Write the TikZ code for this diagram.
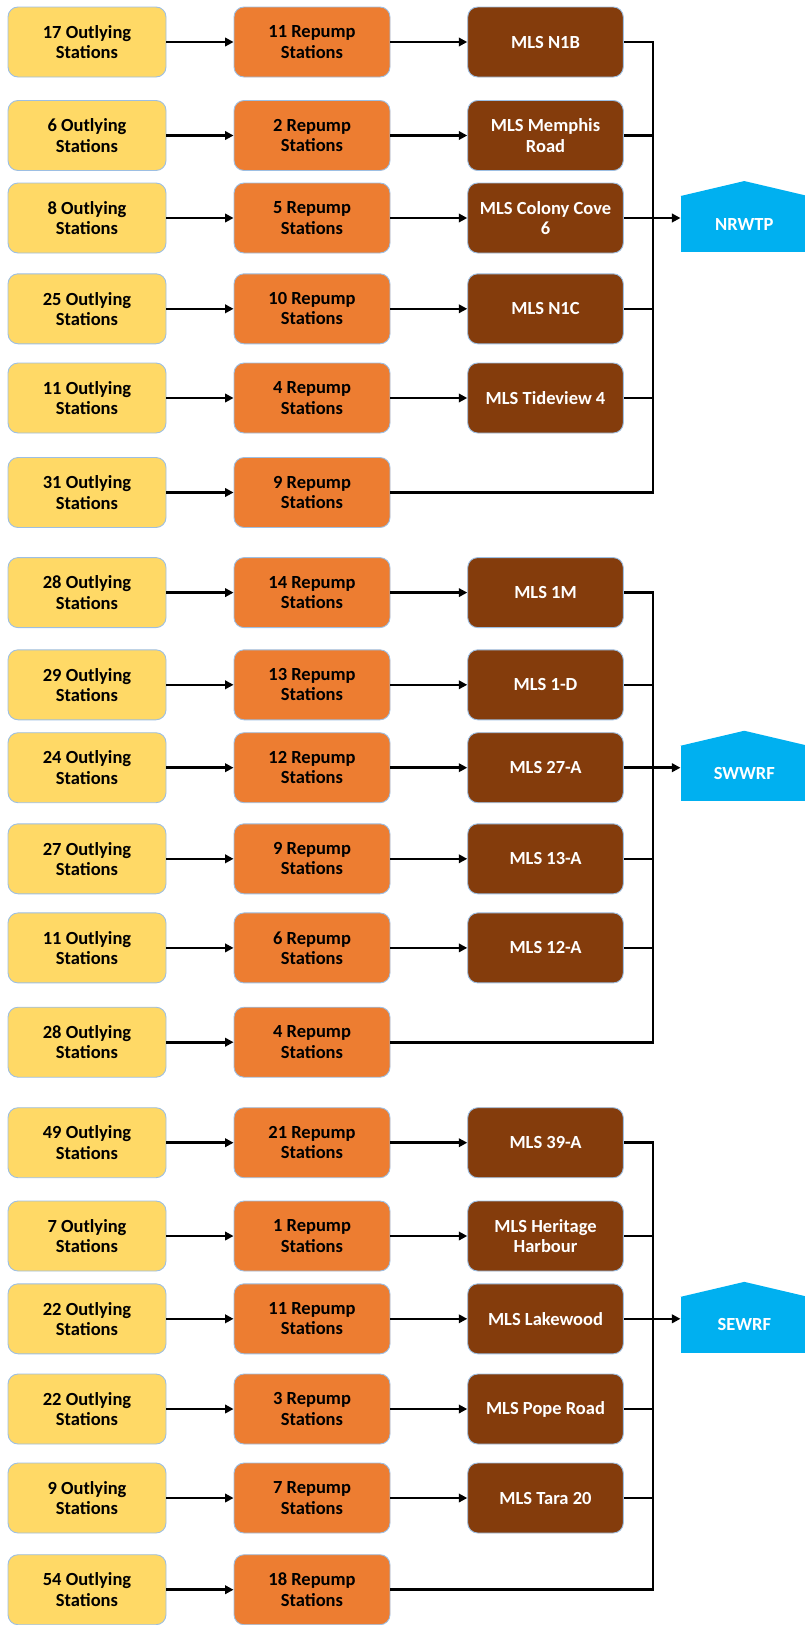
\documentclass[tikz,border=0pt]{standalone}
\usepackage{fontspec}
\setmainfont{Carlito}
\usetikzlibrary{arrows.meta}
\definecolor{outyellow}{HTML}{FFD966}
\definecolor{reporange}{HTML}{ED7D31}
\definecolor{mlsbrown}{HTML}{843C0C}
\definecolor{plantblue}{HTML}{00B0F0}
\definecolor{edgeblue}{HTML}{9DBFE3}
\begin{document}
\begin{tikzpicture}[x=1pt,y=-1pt,
    box/.style={rounded corners=10pt, draw=edgeblue, line width=0.9pt, align=center,
      minimum height=70pt, inner sep=1pt, font=\fontsize{18.5}{20.3}\selectfont\bfseries},
    outly/.style={box, fill=outyellow, minimum width=158pt},
    repump/.style={box, fill=reporange, minimum width=156pt},
    mls/.style={box, fill=mlsbrown, text=white, minimum width=155.6pt},
    plant/.style={fill=plantblue, text=white, minimum width=127.3pt, minimum height=55.5pt,
      inner sep=0pt, font=\fontsize{18.5}{20.3}\selectfont\bfseries},
    wire/.style={line width=2.6pt, line join=miter},
    arr/.style={wire, -{Triangle[length=8.5pt,width=8.5pt]}}]
  \useasboundingbox (0,0) rectangle (804,1625);
  % NRWTP
  \node[outly] (o11) at (87,42) {17 Outlying\\Stations};
  \node[repump] (r11) at (312,42) {11 Repump\\Stations};
  \node[mls] (m11) at (545.5,42) {MLS N1B};
  \node[outly] (o12) at (87,135.5) {6 Outlying\\Stations};
  \node[repump] (r12) at (312,135.5) {2 Repump\\Stations};
  \node[mls] (m12) at (545.5,135.5) {MLS Memphis\\Road};
  \node[outly] (o13) at (87,218) {8 Outlying\\Stations};
  \node[repump] (r13) at (312,218) {5 Repump\\Stations};
  \node[mls] (m13) at (545.5,218) {MLS Colony Cove\\6};
  \node[outly] (o14) at (87,308.8) {25 Outlying\\Stations};
  \node[repump] (r14) at (312,308.8) {10 Repump\\Stations};
  \node[mls] (m14) at (545.5,308.8) {MLS N1C};
  \node[outly] (o15) at (87,398) {11 Outlying\\Stations};
  \node[repump] (r15) at (312,398) {4 Repump\\Stations};
  \node[mls] (m15) at (545.5,398) {MLS Tideview 4};
  \node[outly] (o16) at (87,492.5) {31 Outlying\\Stations};
  \node[repump] (r16) at (312,492.5) {9 Repump\\Stations};
  \node[plant] (nrwtp) at (744.3,224) {NRWTP};
  \fill[plantblue] (nrwtp.north west) -- ([yshift=15pt]nrwtp.north) -- (nrwtp.north east) -- cycle;
  \coordinate (bus1) at (653,492.5);
  \draw[arr] (o11) -- (r11);
  \draw[arr] (r11) -- (m11);
  \draw[arr] (o12) -- (r12);
  \draw[arr] (r12) -- (m12);
  \draw[arr] (o13) -- (r13);
  \draw[arr] (r13) -- (m13);
  \draw[arr] (o14) -- (r14);
  \draw[arr] (r14) -- (m14);
  \draw[arr] (o15) -- (r15);
  \draw[arr] (r15) -- (m15);
  \draw[arr] (o16) -- (r16);
  \draw[wire] (m11.east) -| (bus1) -- (r16.east);
  \draw[wire] (m12.east) -- (m12.east -| bus1);
  \draw[wire] (m14.east) -- (m14.east -| bus1);
  \draw[wire] (m15.east) -- (m15.east -| bus1);
  \draw[arr] (m13.east) -- (m13.east -| nrwtp.west);
  % SWWRF
  \node[outly] (o21) at (87,592.6) {28 Outlying\\Stations};
  \node[repump] (r21) at (312,592.6) {14 Repump\\Stations};
  \node[mls] (m21) at (545.5,592.6) {MLS 1M};
  \node[outly] (o22) at (87,684.8) {29 Outlying\\Stations};
  \node[repump] (r22) at (312,684.8) {13 Repump\\Stations};
  \node[mls] (m22) at (545.5,684.8) {MLS 1-D};
  \node[outly] (o23) at (87,767.7) {24 Outlying\\Stations};
  \node[repump] (r23) at (312,767.7) {12 Repump\\Stations};
  \node[mls] (m23) at (545.5,767.7) {MLS 27-A};
  \node[outly] (o24) at (87,858.8) {27 Outlying\\Stations};
  \node[repump] (r24) at (312,858.8) {9 Repump\\Stations};
  \node[mls] (m24) at (545.5,858.8) {MLS 13-A};
  \node[outly] (o25) at (87,947.9) {11 Outlying\\Stations};
  \node[repump] (r25) at (312,947.9) {6 Repump\\Stations};
  \node[mls] (m25) at (545.5,947.9) {MLS 12-A};
  \node[outly] (o26) at (87,1042.2) {28 Outlying\\Stations};
  \node[repump] (r26) at (312,1042.2) {4 Repump\\Stations};
  \node[plant] (swwrf) at (744.3,773.7) {SWWRF};
  \fill[plantblue] (swwrf.north west) -- ([yshift=15pt]swwrf.north) -- (swwrf.north east) -- cycle;
  \coordinate (bus2) at (653,1042.2);
  \draw[arr] (o21) -- (r21);
  \draw[arr] (r21) -- (m21);
  \draw[arr] (o22) -- (r22);
  \draw[arr] (r22) -- (m22);
  \draw[arr] (o23) -- (r23);
  \draw[arr] (r23) -- (m23);
  \draw[arr] (o24) -- (r24);
  \draw[arr] (r24) -- (m24);
  \draw[arr] (o25) -- (r25);
  \draw[arr] (r25) -- (m25);
  \draw[arr] (o26) -- (r26);
  \draw[wire] (m21.east) -| (bus2) -- (r26.east);
  \draw[wire] (m22.east) -- (m22.east -| bus2);
  \draw[wire] (m24.east) -- (m24.east -| bus2);
  \draw[wire] (m25.east) -- (m25.east -| bus2);
  \draw[arr] (m23.east) -- (m23.east -| swwrf.west);
  % SEWRF
  \node[outly] (o31) at (87,1142.7) {49 Outlying\\Stations};
  \node[repump] (r31) at (312,1142.7) {21 Repump\\Stations};
  \node[mls] (m31) at (545.5,1142.7) {MLS 39-A};
  \node[outly] (o32) at (87,1236) {7 Outlying\\Stations};
  \node[repump] (r32) at (312,1236) {1 Repump\\Stations};
  \node[mls] (m32) at (545.5,1236) {MLS Heritage\\Harbour};
  \node[outly] (o33) at (87,1318.8) {22 Outlying\\Stations};
  \node[repump] (r33) at (312,1318.8) {11 Repump\\Stations};
  \node[mls] (m33) at (545.5,1318.8) {MLS Lakewood};
  \node[outly] (o34) at (87,1409) {22 Outlying\\Stations};
  \node[repump] (r34) at (312,1409) {3 Repump\\Stations};
  \node[mls] (m34) at (545.5,1409) {MLS Pope Road};
  \node[outly] (o35) at (87,1498) {9 Outlying\\Stations};
  \node[repump] (r35) at (312,1498) {7 Repump\\Stations};
  \node[mls] (m35) at (545.5,1498) {MLS Tara 20};
  \node[outly] (o36) at (87,1589.7) {54 Outlying\\Stations};
  \node[repump] (r36) at (312,1589.7) {18 Repump\\Stations};
  \node[plant] (sewrf) at (744.3,1324.8) {SEWRF};
  \fill[plantblue] (sewrf.north west) -- ([yshift=15pt]sewrf.north) -- (sewrf.north east) -- cycle;
  \coordinate (bus3) at (653,1589.7);
  \draw[arr] (o31) -- (r31);
  \draw[arr] (r31) -- (m31);
  \draw[arr] (o32) -- (r32);
  \draw[arr] (r32) -- (m32);
  \draw[arr] (o33) -- (r33);
  \draw[arr] (r33) -- (m33);
  \draw[arr] (o34) -- (r34);
  \draw[arr] (r34) -- (m34);
  \draw[arr] (o35) -- (r35);
  \draw[arr] (r35) -- (m35);
  \draw[arr] (o36) -- (r36);
  \draw[wire] (m31.east) -| (bus3) -- (r36.east);
  \draw[wire] (m32.east) -- (m32.east -| bus3);
  \draw[wire] (m34.east) -- (m34.east -| bus3);
  \draw[wire] (m35.east) -- (m35.east -| bus3);
  \draw[arr] (m33.east) -- (m33.east -| sewrf.west);
\end{tikzpicture}
\end{document}
